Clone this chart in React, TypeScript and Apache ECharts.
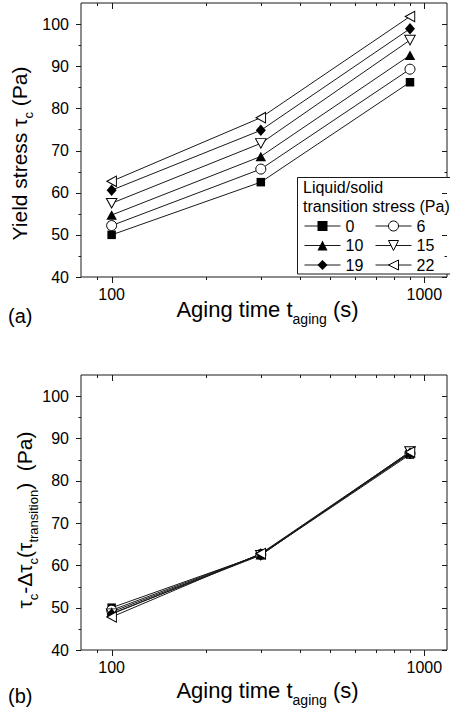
import React, { useEffect, useRef } from 'react';
import * as echarts from 'echarts';

// ---- data ----
const agingTimes = [100, 300, 900];
const transitionStresses = ['0', '6', '10', '15', '19', '22'];

const yieldStress0 = [50.0, 62.5, 86.2];
const yieldStress6 = [52.2, 65.6, 89.3];
const yieldStress10 = [54.7, 68.6, 92.6];
const yieldStress15 = [57.5, 71.7, 96.2];
const yieldStress19 = [60.6, 74.8, 98.9];
const yieldStress22 = [62.7, 77.8, 101.8];

const shifted0 = [50.0, 62.5, 86.2];
const shifted6 = [49.4, 62.6, 86.5];
const shifted10 = [49.0, 62.5, 86.7];
const shifted15 = [48.6, 62.4, 86.9];
const shifted19 = [48.5, 62.7, 86.5];
const shifted22 = [47.8, 62.8, 86.8];

const yTicks = [40, 50, 60, 70, 80, 90, 100];
const yMinorTicks = [45, 55, 65, 75, 85, 95];
const xTickLabels = [100, 1000];
const xMinorTicks = [90, 200, 300, 400, 500, 600, 700, 800, 900];

const topSeriesValues = [yieldStress0, yieldStress6, yieldStress10, yieldStress15, yieldStress19, yieldStress22];
const bottomSeriesValues = [shifted0, shifted6, shifted10, shifted15, shifted19, shifted22];

// ---- styles ----
const FONT = 'Liberation Sans';
const X_MIN = 79.8;
const X_MAX = 1182;
const Y_MIN = 40;
const Y_MAX = 105;
const INK = '#1a1a1a';

const markerStyles: any[] = [
  { symbol: 'rect', size: 8.5, filled: true, rotate: 0 },
  { symbol: 'circle', size: 10, filled: false, rotate: 0 },
  { symbol: 'triangle', size: [10.5, 9.5], filled: true, rotate: 0 },
  { symbol: 'triangle', size: [10.5, 9.5], filled: false, rotate: 180 },
  { symbol: 'diamond', size: [10, 11.5], filled: true, rotate: 0 },
  { symbol: 'triangle', size: [10.5, 9.5], filled: false, rotate: 90 },
];

function itemStyleFor(i: number) {
  const m = markerStyles[i];
  return m.filled
    ? { color: '#000', borderColor: '#000', borderWidth: 0 }
    : { color: '#fff', borderColor: '#000', borderWidth: 1 };
}

function makeSeries(i: number, values: number[], gridIdx: number) {
  const m = markerStyles[i];
  return {
    type: 'line',
    name: transitionStresses[i],
    xAxisIndex: gridIdx,
    yAxisIndex: gridIdx,
    data: agingTimes.map((t, k) => [t, values[k]]),
    symbol: m.symbol,
    symbolSize: m.size,
    symbolRotate: m.rotate,
    showAllSymbol: true,
    lineStyle: { color: INK, width: 1 },
    itemStyle: itemStyleFor(i),
    emphasis: { disabled: true },
    z: 3,
  };
}

function tickSeries(gridIdx: number) {
  return {
    type: 'custom',
    xAxisIndex: gridIdx,
    yAxisIndex: gridIdx,
    silent: true,
    z: 6,
    data: [[xTickLabels[0], yTicks[0]]],
    renderItem: (_params: any, api: any) => {
      const children: any[] = [];
      const ln = (x1: number, y1: number, x2: number, y2: number) => ({
        type: 'line',
        shape: { x1, y1, x2, y2 },
        style: { stroke: INK, lineWidth: 1 },
      });
      const xt = (v: number, len: number) => {
        const px = Math.round(api.coord([v, Y_MIN])[0]) + 0.5;
        const pyB = api.coord([v, Y_MIN])[1];
        const pyT = api.coord([v, Y_MAX])[1];
        children.push(ln(px, pyB, px, pyB + len));
        children.push(ln(px, pyT, px, pyT + len));
      };
      const yt = (v: number, len: number) => {
        const py = Math.round(api.coord([X_MIN, v])[1]) + 0.5;
        const pxL = api.coord([X_MIN, v])[0];
        const pxR = api.coord([X_MAX, v])[0];
        children.push(ln(pxL - len, py, pxL, py));
        children.push(ln(pxR - len, py, pxR, py));
      };
      xTickLabels.forEach((v) => xt(v, 6));
      xMinorTicks.forEach((v) => xt(v, 3));
      yTicks.forEach((v) => yt(v, 5));
      yMinorTicks.forEach((v) => yt(v, 2.5));
      return { type: 'group', children };
    },
  };
}

function xAxisFor(gridIdx: number) {
  return {
    type: 'log',
    logBase: 10,
    gridIndex: gridIdx,
    min: X_MIN,
    max: X_MAX,
    axisLine: { show: false },
    axisTick: { show: false },
    splitLine: { show: false },
    minorTick: { show: false },
    axisLabel: {
      margin: 9,
      fontSize: 16,
      fontFamily: FONT,
      color: '#000',
      formatter: (v: number) => {
        const hit = xTickLabels.find((t) => Math.abs(t - v) < 1e-6 * t);
        return hit ? String(hit) : '';
      },
    },
  };
}

function yAxisFor(gridIdx: number) {
  return {
    type: 'value',
    gridIndex: gridIdx,
    min: Y_MIN,
    max: Y_MAX,
    interval: 10,
    axisLine: { show: false },
    axisTick: { show: false },
    splitLine: { show: false },
    axisLabel: {
      margin: 12,
      fontSize: 16,
      fontFamily: FONT,
      color: '#000',
      showMaxLabel: false,
      formatter: (v: number) => (yTicks.includes(v) ? String(v) : ''),
    },
  };
}

const yTitleRich = {
  m: { fontSize: 21, fontFamily: FONT, color: '#000' },
  s: { fontSize: 13, fontFamily: FONT, color: '#000', padding: [18, 0, 0, 0] },
};
const xTitleRich = {
  m: { fontSize: 22, fontFamily: FONT, color: '#000' },
  s: { fontSize: 14, fontFamily: FONT, color: '#000', padding: [18, 0, 0, 0] },
};

function legendData(names: number[]) {
  return names.map((i) => ({
    name: transitionStresses[i],
    itemStyle: itemStyleFor(i),
    lineStyle: { color: INK, width: 1 },
  }));
}

const legendBase = {
  orient: 'vertical',
  top: 216.25,
  itemWidth: 36,
  itemHeight: 12.5,
  itemGap: 0,
  padding: 0,
  selectedMode: false,
  textStyle: { fontSize: 16, lineHeight: 19.5, color: '#000', fontFamily: FONT },
};

export default function App() {
  const ref = useRef<HTMLDivElement>(null);
  useEffect(() => {
    if (!ref.current) return;
    const chart = echarts.init(ref.current, undefined, { renderer: 'svg' });
    const option: any = {
      animation: false,
      backgroundColor: '#fff',
      textStyle: { fontFamily: FONT },
      grid: [
        { left: 81, top: 3, width: 370, height: 274, show: true, borderColor: INK, borderWidth: 1, backgroundColor: 'transparent' },
        { left: 81, top: 375, width: 370, height: 275, show: true, borderColor: INK, borderWidth: 1, backgroundColor: 'transparent' },
      ],
      xAxis: [xAxisFor(0), xAxisFor(1)],
      yAxis: [yAxisFor(0), yAxisFor(1)],
      legend: [
        { ...legendBase, left: 304, data: legendData([0, 2, 4]) },
        { ...legendBase, left: 375, data: legendData([1, 3, 5]) },
      ],
      series: [
        ...topSeriesValues.map((v, i) => makeSeries(i, v, 0)),
        ...bottomSeriesValues.map((v, i) => makeSeries(i, v, 1)),
        tickSeries(0),
        tickSeries(1),
      ],
      graphic: [
        {
          type: 'rect',
          z: 1,
          shape: { x: 297.5, y: 177.5, width: 160, height: 96.5 },
          style: { fill: '#fff', stroke: INK, lineWidth: 1 },
        },
        {
          type: 'text', z: 5, x: 303, y: 187,
          style: { text: 'Liquid/solid', fontSize: 16, fontFamily: FONT, fill: '#000', align: 'left', verticalAlign: 'middle' },
        },
        {
          type: 'text', z: 5, x: 303, y: 206.5,
          style: { text: 'transition stress (Pa)', fontSize: 16, fontFamily: FONT, fill: '#000', align: 'left', verticalAlign: 'middle' },
        },
        {
          type: 'text', x: 19.7, y: 153.5, rotation: Math.PI / 2,
          style: { text: '{m|Yield stress τ}{s|c}{m| (Pa)}', rich: yTitleRich, align: 'center', verticalAlign: 'middle' },
        },
        {
          type: 'text', x: 24.6, y: 520, rotation: Math.PI / 2,
          style: { text: '{m|τ}{s|c}{m|-Δτ}{s|c}{m|(τ}{s|transition}{m|)  (Pa)}', rich: yTitleRich, align: 'center', verticalAlign: 'middle' },
        },
        {
          type: 'text', x: 267.5, y: 309.6,
          style: { text: '{m|Aging time t}{s|aging}{m| (s)}', rich: xTitleRich, align: 'center', verticalAlign: 'middle' },
        },
        {
          type: 'text', x: 267.5, y: 690.6,
          style: { text: '{m|Aging time t}{s|aging}{m| (s)}', rich: xTitleRich, align: 'center', verticalAlign: 'middle' },
        },
        {
          type: 'text', x: 8, y: 316,
          style: { text: '(a)', fontSize: 20, fontFamily: FONT, fill: '#000', align: 'left', verticalAlign: 'middle' },
        },
        {
          type: 'text', x: 8, y: 696,
          style: { text: '(b)', fontSize: 20, fontFamily: FONT, fill: '#000', align: 'left', verticalAlign: 'middle' },
        },
      ],
    };
    chart.setOption(option);
    return () => chart.dispose();
  }, []);
  return <div ref={ref} style={{ position: 'fixed', left: 0, top: 0, width: 450, height: 708 }} />;
}
